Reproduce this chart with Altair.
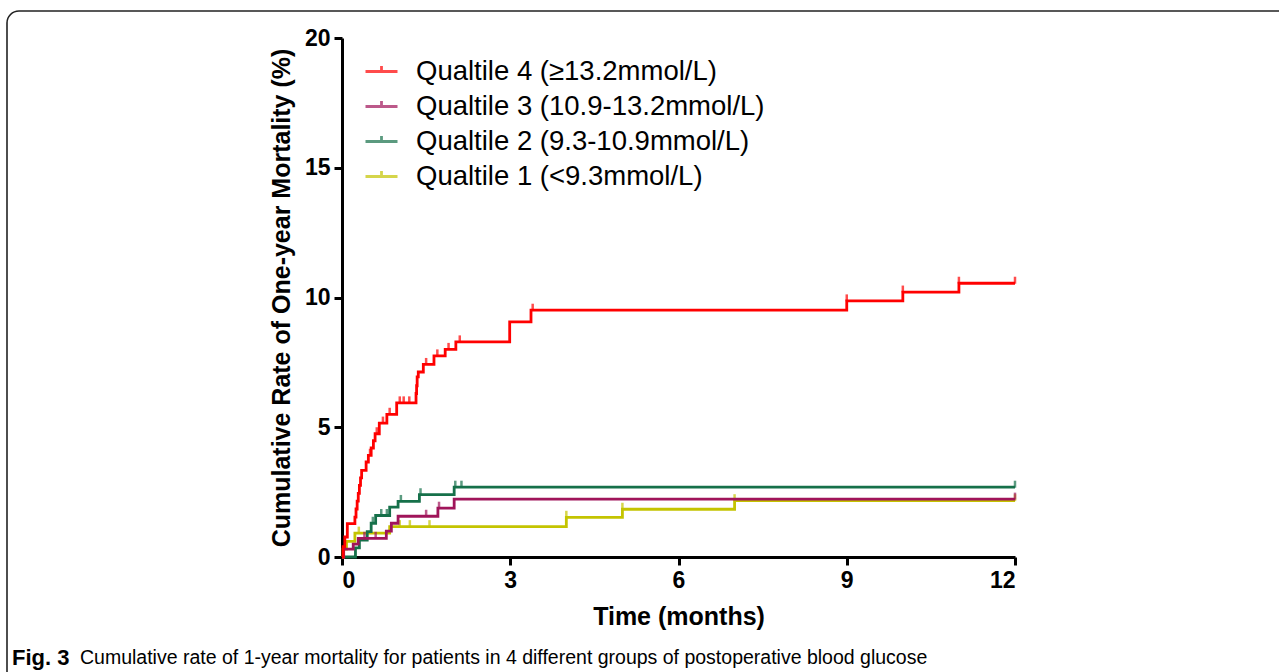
import altair as alt
import pandas as pd

groups = ["Qualtile 4 (≥13.2mmol/L)", "Qualtile 3 (10.9-13.2mmol/L)",
          "Qualtile 2 (9.3-10.9mmol/L)", "Qualtile 1 (<9.3mmol/L)"]
colors = ["#FF0000", "#A0145A", "#16704A", "#C4C400"]

# Step curves (time in months, cumulative mortality in %)
q4_t = [0, 0.02, 0.05, 0.095, 0.23, 0.25, 0.27, 0.29, 0.31, 0.33, 0.35, 0.43, 0.47, 0.52, 0.56,
        0.59, 0.665, 0.8, 0.975, 1.32, 1.33, 1.34, 1.36, 1.45, 1.64, 1.84, 2.03, 2.99, 3.37,
        9.0, 10.0, 11.0, 12.0]
q4_v = [0, 0.40, 0.77, 1.29, 1.54, 1.85, 2.15, 2.45, 2.76, 3.05, 3.34, 3.66, 3.92, 4.2, 4.48,
        4.75, 5.16, 5.50, 5.94, 6.3, 6.6, 6.94, 7.13, 7.42, 7.75, 8.0, 8.29, 9.06, 9.51,
        9.87, 10.21, 10.55, 10.55]
q4_cens = [0.5, 0.62, 0.73, 0.85, 1.03, 1.1, 1.2, 1.5, 1.7, 1.9, 2.1, 3.4, 9.0, 10.0, 11.0, 12.0]

q3_t = [0, 0.03, 0.2, 0.29, 0.79, 0.88, 1.0, 1.71, 2.0, 12.0]
q3_v = [0, 0.3, 0.5, 0.72, 1.0, 1.3, 1.57, 1.88, 2.23, 2.23]
q3_cens = [0.4, 0.6, 1.5, 1.73, 12.0]

q2_t = [0, 0.24, 0.31, 0.45, 0.52, 0.6, 0.85, 1.0, 1.38, 2.0, 12.0]
q2_v = [0, 0.35, 0.65, 0.98, 1.3, 1.6, 1.92, 2.14, 2.4, 2.69, 2.69]
q2_cens = [0.55, 0.7, 0.8, 1.05, 1.4, 2.02, 2.13, 12.0]

q1_t = [0, 0.02, 0.08, 0.23, 0.85, 4.0, 5.0, 7.0, 12.0]
q1_v = [0, 0.3, 0.6, 0.92, 1.17, 1.53, 1.84, 2.17, 2.17]
q1_cens = [0.3, 1.03, 1.21, 1.56, 4.0, 5.0, 7.0, 12.0]

x_ticks = [0, 3, 6, 9, 12]
y_ticks = [0, 5, 10, 15, 20]

series = [(groups[0], q4_t, q4_v, q4_cens), (groups[1], q3_t, q3_v, q3_cens),
          (groups[2], q2_t, q2_v, q2_cens), (groups[3], q1_t, q1_v, q1_cens)]

line_rows, cens_rows = [], []
for g, ts, vs, cs in series:
    for t, v in zip(ts, vs):
        line_rows.append({"group": g, "t": t, "v": v})
    for c in cs:
        lvl = [v for t, v in zip(ts, vs) if t <= c][-1]
        cens_rows.append({"group": g, "t": c, "v": lvl})
lines_df = pd.DataFrame(line_rows)
cens_df = pd.DataFrame(cens_rows)

W, H = 673, 519
L, T = 342, 38

xenc = alt.X("t:Q", scale=alt.Scale(domain=[0, 12], nice=False, zero=False),
             axis=alt.Axis(values=x_ticks, title="Time (months)", labelPadding=4, titlePadding=12,
                           titleFontSize=25))
yenc = alt.Y("v:Q", scale=alt.Scale(domain=[0, 20], nice=False),
             axis=alt.Axis(values=y_ticks, title="Cumulative Rate of One-year Mortality (%)",
                           labelPadding=4, titlePadding=10, titleFontSize=25))
cenc = alt.Color("group:N", scale=alt.Scale(domain=groups, range=colors),
                 legend=alt.Legend(title=None, orient="none", legendX=22, legendY=16,
                                   symbolType="M-1,0L1,0M0,0L0,-0.35", symbolSize=1024,
                                   symbolStrokeWidth=2.8, symbolFillColor="transparent",
                                   labelFont="Liberation Sans", labelFontSize=27.5,
                                   labelColor="black", labelOffset=17, rowPadding=4,
                                   padding=0, labelLimit=600))

layers = []
frame_df = pd.DataFrame({"a": [0]})
layers.append(alt.Chart(frame_df).mark_rect(fill="transparent", stroke="#222222", strokeWidth=1.6,
                                            cornerRadius=12).encode(
    x=alt.value(7 - L), x2=alt.value(1320 - L), y=alt.value(11 - T), y2=alt.value(720 - T)))

for g, ts, vs, cs in reversed(series):
    layers.append(alt.Chart(lines_df).transform_filter(alt.datum.group == g).mark_line(
        interpolate="step-after", strokeWidth=2.8, strokeJoin="miter").encode(x=xenc, y=yenc, color=cenc))
    layers.append(alt.Chart(cens_df).transform_filter(alt.datum.group == g).mark_tick(
        orient="vertical", size=7, thickness=2.5, yOffset=-3).encode(x=xenc, y=yenc, color=cenc))

cap1 = pd.DataFrame({"label": ["Fig. 3"]})
cap2 = pd.DataFrame({"label": ["Cumulative rate of 1-year mortality for patients in 4 different groups of postoperative blood glucose"]})
layers.append(alt.Chart(cap1).mark_text(align="left", baseline="middle", font="Liberation Sans",
                                        fontSize=22, fontWeight="bold", color="black").encode(
    x=alt.value(12 - L), y=alt.value(658 - T), text="label:N"))
layers.append(alt.Chart(cap2).mark_text(align="left", baseline="middle", font="Liberation Sans",
                                        fontSize=19.5, color="black").encode(
    x=alt.value(80 - L), y=alt.value(658 - T), text="label:N"))

chart = alt.layer(*layers).properties(
    width=W, height=H,
    padding={"left": L, "top": T, "right": 1279 - L - W, "bottom": 672 - T - H},
    autosize=alt.AutoSizeParams(type="none"),
).configure_view(stroke=None).configure_axis(
    domainColor="black", domainWidth=3, tickColor="black", tickWidth=3, tickSize=8,
    labelFont="Liberation Sans", labelFontWeight="bold", labelFontSize=23, labelColor="black",
    titleFont="Liberation Sans", titleFontWeight="bold", titleFontSize=24, titleColor="black",
    grid=False,
)

chart.save("out.html", embed_options={"renderer": "svg", "actions": False})
